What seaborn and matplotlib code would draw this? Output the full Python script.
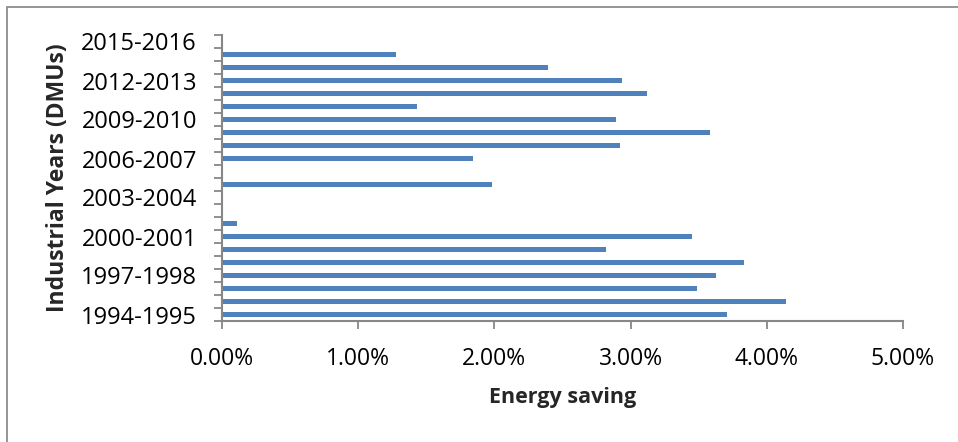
import matplotlib
matplotlib.use("Agg")
import matplotlib.pyplot as plt
from matplotlib.patches import Rectangle
from matplotlib.ticker import FuncFormatter, FixedLocator
import seaborn as sns
import pandas as pd

# Industrial years (DMUs), most recent first so 2015-2016 sits at the top
years = [
    "2015-2016", "2014-2015", "2013-2014", "2012-2013", "2011-2012",
    "2010-2011", "2009-2010", "2008-2009", "2007-2008", "2006-2007",
    "2005-2006", "2004-2005", "2003-2004", "2002-2003", "2001-2002",
    "2000-2001", "1999-2000", "1998-1999", "1997-1998", "1996-1997",
    "1995-1996", "1994-1995",
]
# Energy saving in percent
energy_saving_pct = [
    0.00, 1.28, 2.39, 2.94, 3.12,
    1.43, 2.89, 3.58, 2.92, 1.84,
    0.00, 1.98, 0.00, 0.00, 0.11,
    3.45, 2.82, 3.83, 3.63, 3.49,
    4.14, 3.71,
]
labelled_years = ["2015-2016", "2012-2013", "2009-2010", "2006-2007",
                  "2003-2004", "2000-2001", "1997-1998", "1994-1995"]
x_ticks = [0, 1, 2, 3, 4, 5]

df = pd.DataFrame({"year": years, "saving": energy_saving_pct})

sns.set_theme(style="white")
plt.rcParams["font.family"] = ["Open Sans", "DejaVu Sans"]

fig = plt.figure(figsize=(9.58, 4.42), dpi=100)
ax = fig.add_axes([222 / 958, 1 - 321 / 442, (903 - 222) / 958, (321 - 35) / 442])

sns.barplot(data=df, x="saving", y="year", order=years, orient="y",
            color="#4F81BD", width=0.4, linewidth=0, saturation=1, ax=ax)

axis_grey = "#878787"
ax.set_xlim(0, 5)
ax.set_ylim(len(years) - 0.5, -0.5)

ax.xaxis.set_major_locator(FixedLocator(x_ticks))
ax.xaxis.set_major_formatter(FuncFormatter(lambda v, _: f"{v:.2f}%"))

label_pos = [years.index(y) for y in labelled_years]
ax.set_yticks(label_pos)
ax.set_yticklabels(labelled_years)
ax.set_yticks([i - 0.5 for i in range(len(years) + 1)], minor=True)

ax.tick_params(axis="y", which="major", length=0, pad=18, labelsize=17, colors="black")
ax.tick_params(axis="y", which="minor", left=True, length=6, width=1.3, color=axis_grey)
ax.tick_params(axis="x", which="major", bottom=True, length=6, width=1.3,
               color=axis_grey, pad=13, labelsize=16.5, labelcolor="black")

for side in ("top", "right"):
    ax.spines[side].set_visible(False)
for side in ("left", "bottom"):
    ax.spines[side].set_color(axis_grey)
    ax.spines[side].set_linewidth(1.5)

ax.set_xlabel("Energy saving", fontsize=15.5, fontweight="bold", labelpad=11)
ax.set_ylabel("Industrial Years (DMUs)", fontsize=16.5, fontweight="bold", labelpad=8)
ax.grid(False)

# Chart-area frame
fig.patches.append(Rectangle((7 / 958, -0.1), 1.2, 1 - 7 / 442 + 0.1,
                             transform=fig.transFigure, fill=False,
                             edgecolor="#8c8c8c", linewidth=1.3))

fig.savefig("out.png", dpi=100)
